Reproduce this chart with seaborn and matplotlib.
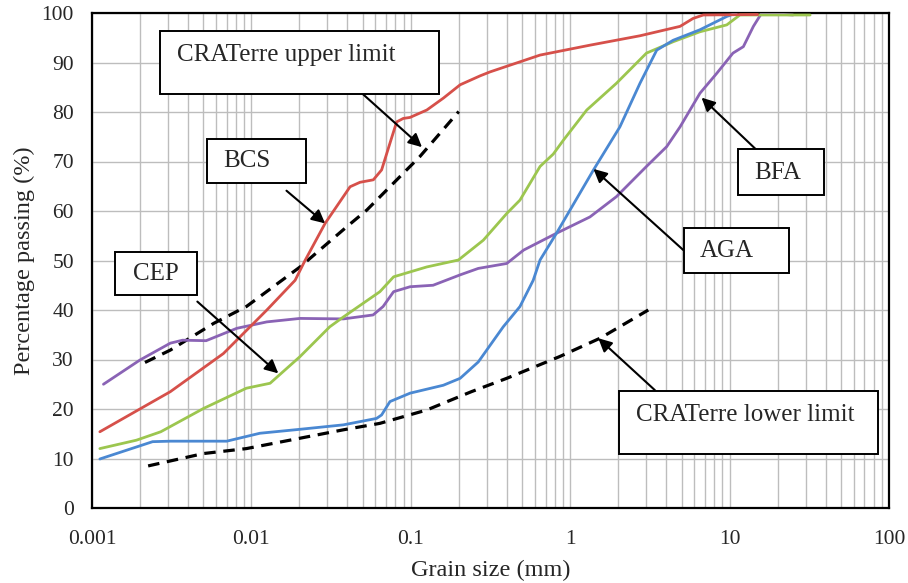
import matplotlib
matplotlib.use("Agg")
import matplotlib.pyplot as plt
import numpy as np
import pandas as pd
import seaborn as sns
from matplotlib.patches import Rectangle
from matplotlib.ticker import FixedLocator, LogLocator, NullFormatter

# Particle size distribution: grain size (mm) vs percentage passing (%)
bcs_size = [0.00112, 0.0031, 0.00667, 0.0125, 0.0188, 0.0217, 0.029, 0.0416, 0.048, 0.0582,
            0.0656, 0.074, 0.0815, 0.0897, 0.0988, 0.126, 0.16, 0.204, 0.272, 0.314, 0.647,
            1.33, 2.74, 4.89, 5.9, 6.84, 15.0]
bcs_pass = [15.4, 23.5, 31.2, 40.0, 46.0, 50.0, 57.5, 64.9, 65.8, 66.3,
            68.3, 73.7, 78.0, 78.7, 78.9, 80.4, 82.8, 85.5, 87.3, 88.1, 91.5,
            93.5, 95.4, 97.3, 98.9, 99.6, 99.7]

aga_size = [0.00112, 0.0024, 0.0031, 0.007, 0.0113, 0.0202, 0.0378, 0.061, 0.0656, 0.074,
            0.099, 0.16, 0.204, 0.265, 0.38, 0.484, 0.586, 0.647, 0.82, 1.4, 2.05, 2.74,
            3.49, 4.43, 6.5, 9.6, 11.0]
aga_pass = [9.9, 13.4, 13.5, 13.5, 15.1, 15.9, 16.8, 18.1, 18.8, 21.5,
            23.2, 24.8, 26.2, 29.5, 36.6, 40.7, 46.0, 50.1, 55.5, 68.3, 77.0, 85.8,
            92.5, 94.5, 96.6, 99.3, 100.0]

cep_size = [0.00112, 0.0019, 0.0027, 0.005, 0.0093, 0.0131, 0.0202, 0.031, 0.0378, 0.064,
            0.078, 0.126, 0.199, 0.285, 0.4, 0.484, 0.647, 0.783, 0.906, 1.27, 1.95, 3.01,
            4.43, 6.5, 9.6, 11.6, 32.0]
cep_pass = [12.0, 13.7, 15.4, 20.1, 24.2, 25.2, 30.6, 36.6, 38.6, 43.7,
            46.7, 48.7, 50.1, 54.1, 59.5, 62.2, 69.0, 71.5, 74.3, 80.4, 85.8, 91.9,
            94.2, 96.2, 97.6, 99.6, 99.6]

bfa_size = [0.00118, 0.002, 0.0031, 0.0037, 0.0052, 0.0081, 0.0125, 0.0202, 0.0378, 0.058,
            0.067, 0.078, 0.099, 0.138, 0.204, 0.265, 0.4, 0.51, 0.82, 1.33, 1.95, 3.01,
            4.03, 4.89, 6.52, 8.3, 10.5, 12.2, 14.1, 15.9, 25.0]
bfa_pass = [25.0, 29.9, 33.3, 33.9, 33.8, 36.3, 37.6, 38.3, 38.2, 39.0,
            40.7, 43.7, 44.7, 45.0, 47.1, 48.4, 49.4, 52.1, 55.5, 58.8, 62.9, 69.0,
            73.0, 77.0, 83.8, 87.8, 91.9, 93.2, 97.3, 100.0, 99.6]

upper_size = [0.00215, 0.0031, 0.0058, 0.0093, 0.0202, 0.0396, 0.053, 0.114, 0.2]
upper_pass = [29.4, 31.9, 37.3, 40.7, 48.7, 56.8, 60.2, 71.0, 80.1]

lower_size = [0.00225, 0.005, 0.0093, 0.0202, 0.0378, 0.064, 0.126, 0.24, 0.4, 0.86, 1.54, 3.09]
lower_pass = [8.5, 11.0, 12.0, 14.1, 15.8, 17.1, 19.8, 23.5, 26.2, 30.6, 34.3, 40.0]

soil_names = ["BFA", "CEP", "AGA", "BCS"]
soil_colors = ["#8a63b5", "#9cc64f", "#4a88d2", "#d6504a"]

x_ticks = [0.001, 0.01, 0.1, 1, 10, 100]
x_tick_labels = ["0.001", "0.01", "0.1", "1", "10", "100"]
y_ticks = list(range(0, 101, 10))

# label, arrow tail (data), arrow tip (data)
callouts = [
    ("CRATerre upper limit", (0.0501, 83.6), (0.1175, 72.9)),
    ("BCS", (0.0166, 64.1), (0.029, 57.5)),
    ("CEP", (0.00458, 41.7), (0.01475, 27.2)),
    ("BFA", (14.8, 72.3), (6.67, 82.9)),
    ("AGA", (5.13, 52.1), (1.40, 68.5)),
    ("CRATerre lower limit", (3.40, 23.8), (1.50, 34.3)),
]

soils = pd.concat([
    pd.DataFrame({"size": bfa_size, "passing": bfa_pass, "soil": "BFA"}),
    pd.DataFrame({"size": cep_size, "passing": cep_pass, "soil": "CEP"}),
    pd.DataFrame({"size": aga_size, "passing": aga_pass, "soil": "AGA"}),
    pd.DataFrame({"size": bcs_size, "passing": bcs_pass, "soil": "BCS"}),
], ignore_index=True)

limits = pd.concat([
    pd.DataFrame({"size": upper_size, "passing": upper_pass, "limit": "upper"}),
    pd.DataFrame({"size": lower_size, "passing": lower_pass, "limit": "lower"}),
], ignore_index=True)

sns.set_theme(style="white")
plt.rcParams["font.family"] = ["Liberation Serif", "DejaVu Serif"]

W, H = 908, 583
fig = plt.figure(figsize=(W / 100, H / 100), dpi=100)
ax = fig.add_axes([92 / W, 1 - 508 / H, 797 / W, 495 / H])
ax.set_xscale("log")

grid_color = "#bdbdbd"
sns.lineplot(data=limits, x="size", y="passing", units="limit", estimator=None, sort=False,
             color="black", lw=2.3, ax=ax, zorder=3, dashes=False)
for line in ax.lines:
    line.set_dashes((3.6, 2.4))

sns.lineplot(data=soils, x="size", y="passing", hue="soil", hue_order=soil_names,
             palette=dict(zip(soil_names, soil_colors)), estimator=None, sort=False,
             lw=2.0, ax=ax, zorder=4, legend=False)
for line in ax.lines:
    line.set_solid_joinstyle("round")

ax.set_xlim(0.001, 100)
ax.set_ylim(0, 100)
ax.xaxis.set_major_locator(FixedLocator(x_ticks))
ax.set_xticklabels(x_tick_labels)
ax.xaxis.set_minor_locator(LogLocator(base=10, subs=np.arange(2, 10)))
ax.xaxis.set_minor_formatter(NullFormatter())
ax.set_yticks(y_ticks)
ax.set_yticklabels([str(v) for v in y_ticks])

ax.grid(True, which="both", axis="x", color=grid_color, lw=1.0)
ax.grid(True, which="major", axis="y", color=grid_color, lw=1.0)
ax.set_axisbelow(True)
ax.tick_params(which="both", length=0)
ax.tick_params(axis="y", labelsize=15.5, pad=13)
ax.tick_params(axis="x", labelsize=15.5, pad=16)
for s in ax.spines.values():
    s.set_color("black")
    s.set_linewidth(1.6)

ax.set_xlabel("Grain size (mm)", fontsize=17.5, labelpad=8)
ax.set_ylabel("Percentage passing (%)", fontsize=17.5, labelpad=5)

# callout boxes (pixel layout) and arrows pointing to the curves
boxes = {
    "CRATerre upper limit": ((160, 31, 439, 94), (177, 55), "left"),
    "BCS": ((207, 139, 306, 183), (247, 161), "center"),
    "CEP": ((115, 252, 197, 295), (156, 274), "center"),
    "BFA": ((738, 149, 824, 195), (778, 173), "center"),
    "AGA": ((684, 228, 789, 273), (727, 251), "center"),
    "CRATerre lower limit": ((619, 391, 878, 454), (636, 415), "left"),
}
for label, tail, tip in callouts:
    (x0, y0, x1, y1), (tx, ty), ha = boxes[label]
    fig.add_artist(Rectangle((x0 / W, 1 - y1 / H), (x1 - x0) / W, (y1 - y0) / H,
                             transform=fig.transFigure, facecolor="white",
                             edgecolor="black", lw=1.4, zorder=5))
    fig.text(tx / W, 1 - ty / H, label, ha=ha, va="center", fontsize=18, zorder=6)
    ax.annotate("", xy=tip, xytext=tail, xycoords="data", textcoords="data",
                arrowprops=dict(arrowstyle="-|>", color="black", lw=1.5,
                                mutation_scale=20, shrinkA=0, shrinkB=0),
                zorder=6)

fig.savefig("out.png", dpi=100)
